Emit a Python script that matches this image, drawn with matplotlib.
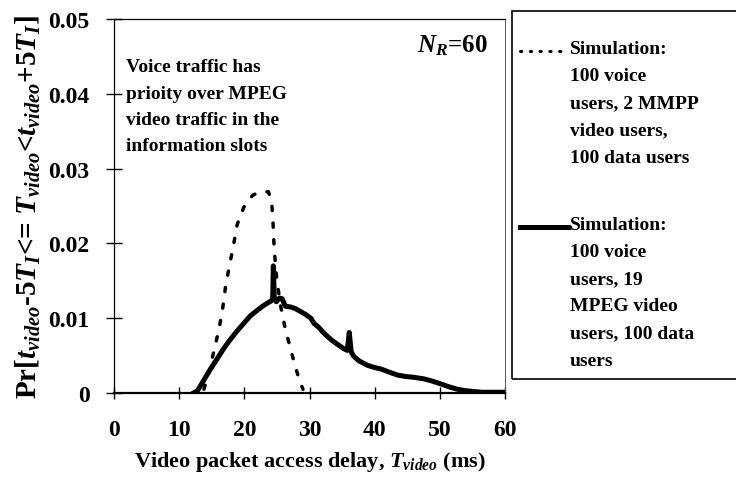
import matplotlib
matplotlib.use("Agg")
import matplotlib.pyplot as plt
from matplotlib.lines import Line2D
from matplotlib.patches import Rectangle

# ---------------------------------------------------------------------------
# Dati
# ---------------------------------------------------------------------------
# Simulazione: 100 voice, 2 MMPP video, 100 data (tratteggiata)
mmpp_x = [13.8, 14.5, 15.3, 16.0, 16.6, 17.1, 17.6, 18.3, 18.9, 19.9,
          20.6, 21.4, 22.5, 23.7, 24.2, 24.4, 24.6, 25.0, 25.6, 26.3,
          27.1, 27.8, 28.5, 29.0]
mmpp_y = [0.0005, 0.0025, 0.0055, 0.0081, 0.0108, 0.0141, 0.0165, 0.0196,
          0.0225, 0.0248, 0.0258, 0.0265, 0.0269, 0.0269, 0.0255, 0.0228,
          0.0190, 0.0150, 0.0115, 0.0085, 0.0059, 0.0036, 0.0016, 0.0005]

# Simulazione: 100 voice, 19 MPEG video, 100 data (continua)
mpeg_x = [12.2, 12.8, 13.5, 14.8, 16.0, 16.8, 17.8, 18.9, 19.9, 20.9,
          21.9, 22.8, 23.5, 24.1, 24.35, 24.45, 24.6, 24.9, 25.4, 25.8,
          26.3, 27.1, 27.8, 28.6, 29.4, 30.2, 30.7, 31.4, 32.0, 32.7,
          33.5, 34.3, 35.3, 35.8, 36.1, 36.4, 36.8, 37.6, 38.9, 40.0,
          41.0, 42.2, 43.5, 44.8, 46.0, 47.5, 48.8, 50.2, 51.5, 52.7,
          54.0, 55.2, 56.5, 58.0, 59.4, 60.0]
mpeg_y = [0.0, 0.0003, 0.0013, 0.0032, 0.0048, 0.0059, 0.0071, 0.0083, 0.0093, 0.0103,
          0.0110, 0.0116, 0.0120, 0.0123, 0.0125, 0.0170, 0.0128, 0.0122, 0.0127, 0.0126,
          0.0116, 0.0115, 0.0113, 0.0109, 0.0105, 0.0100, 0.0093, 0.0088, 0.0082, 0.0076,
          0.0070, 0.0065, 0.0059, 0.0057, 0.0081, 0.0055, 0.0049, 0.0043, 0.0037, 0.0034,
          0.0032, 0.0028, 0.0024, 0.0022, 0.0021, 0.0019, 0.0016, 0.0012, 0.0008, 0.0005,
          0.0003, 0.0002, 0.0001, 0.0001, 0.0001, 0.0001]

x_ticks = [0, 10, 20, 30, 40, 50, 60]
y_ticks = [0, 0.01, 0.02, 0.03, 0.04, 0.05]
y_ticklabels = ["0", "0.01", "0.02", "0.03", "0.04", "0.05"]

label_mmpp = "Simulation:\n100 voice\nusers, 2 MMPP\nvideo users,\n100 data users"
label_mpeg = "Simulation:\n100 voice\nusers, 19\nMPEG video\nusers, 100 data\nusers"
note = "Voice traffic has\nprioity over MPEG\nvideo traffic in the\ninformation slots"

# ---------------------------------------------------------------------------
# Stile
# ---------------------------------------------------------------------------
plt.rcParams.update({
    "font.family": "Liberation Serif",
    "font.weight": "bold",
    "axes.labelweight": "bold",
    "mathtext.fontset": "custom",
    "mathtext.rm": "Liberation Serif:bold",
    "mathtext.it": "Liberation Serif:italic:bold",
    "mathtext.bf": "Liberation Serif:bold",
})

style_mmpp = dict(color="black", linewidth=2.5, linestyle=(0, (1.2, 3.6)),
                  dash_capstyle="round")
style_mpeg = dict(color="black", linewidth=3.6, linestyle="-")
# campione in legenda: puntini piu' fitti
style_mmpp_leg = dict(color="black", linewidth=2.2, linestyle=(0, (0.4, 2.8)),
                      dash_capstyle="round")

W, H = 736, 485
fig = plt.figure(figsize=(W / 100, H / 100), dpi=100)
ax = fig.add_axes([114 / W, 1 - 394 / H, (505 - 114) / W, (394 - 20) / H])

ax.plot(mmpp_x, mmpp_y, **style_mmpp)
ax.plot(mpeg_x, mpeg_y, **style_mpeg)

ax.set_xlim(0, 60)
ax.set_ylim(0, 0.05)
ax.set_xticks(x_ticks)
ax.set_yticks(y_ticks)
ax.set_yticklabels(y_ticklabels)
ax.tick_params(axis="y", direction="inout", length=11, width=1.0,
               labelsize=17, pad=12)
ax.tick_params(axis="x", direction="inout", length=8, width=1.0,
               labelsize=17, pad=15)

for s in ["left", "top"]:
    ax.spines[s].set_linewidth(0.9)
ax.spines["right"].set_linewidth(0.7)
ax.spines["right"].set_color("#555555")
ax.spines["bottom"].set_linewidth(1.6)

ax.set_xlabel(r"Video packet access delay, $T_{video}$ (ms)", fontsize=16,
              labelpad=6)
ax.set_ylabel(r"Pr[$t_{video}$-5$T_I$<= $T_{video}$<$t_{video}$+5$T_I$]",
              fontsize=21, labelpad=4)

ax.text(0.955, 0.965, r"$N_R$=60", transform=ax.transAxes,
        ha="right", va="top", fontsize=18)
ax.text(0.03, 0.895, note, transform=ax.transAxes, ha="left", va="top",
        fontsize=14, linespacing=1.72)

# Legenda disegnata a mano, a destra degli assi
fig.add_artist(Rectangle((512 / W, 1 - 380 / H), 300 / W, (380 - 12) / H,
                         transform=fig.transFigure, fill=False,
                         edgecolor="black", linewidth=1.2))
for y_px, st, lab in [(52, style_mmpp_leg, label_mmpp), (228, style_mpeg, label_mpeg)]:
    yf = 1 - y_px / H
    fig.add_artist(Line2D([520 / W, 568 / W], [yf, yf], transform=fig.transFigure, **st))
    fig.text(570 / W, yf + 11 / H, lab, ha="left", va="top", fontsize=14,
             linespacing=1.78)

fig.savefig("out.png", dpi=100)
